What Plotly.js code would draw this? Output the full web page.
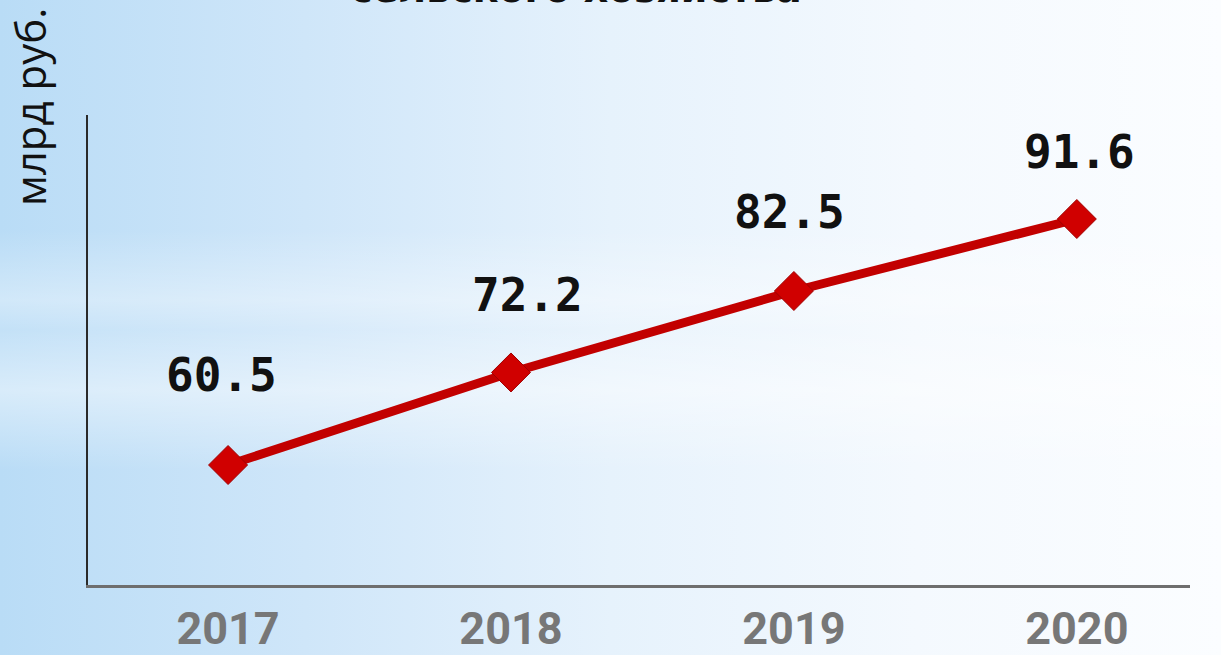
<!DOCTYPE html>
<html>
<head>
<meta charset="utf-8">
<script src="https://cdn.plot.ly/plotly-3.0.1.min.js"></script>
<style>
html,body{margin:0;padding:0;width:1221px;height:655px;overflow:hidden;}
#bg{position:absolute;left:0;top:0;width:1221px;height:655px;
background:
 linear-gradient(180deg, rgba(255,255,255,0) 0px, rgba(255,255,255,0) 230px, rgba(255,255,255,0.35) 300px, rgba(255,255,255,0.15) 330px, rgba(255,255,255,0.45) 390px, rgba(255,255,255,0) 470px, rgba(255,255,255,0) 655px),
 linear-gradient(90deg, #b9dcf6 0%, #cfe6f9 25%, #e6f2fc 50%, #f4f9fe 75%, #fbfdff 100%);}
#chart{position:absolute;left:0;top:0;width:1221px;height:655px;}
</style>
</head>
<body>
<div id="bg"></div>
<div id="chart"></div>
<script>
var years = [2017, 2018, 2019, 2020];
var values = [60.5, 72.2, 82.5, 91.6];
var valueLabels = ["60.5", "72.2", "82.5", "91.6"];
var titleText = "сельского хозяйства";
var yTitle = "млрд руб.";

// label placement (style): pixel offsets from each point
var labelDx = [-7, 17, -4, 3];
var labelDy = [90, 77, 79, 67];

var trace = {
  x: years, y: values, type: "scatter", mode: "lines+markers",
  line: {color: "#c20000", width: 9},
  marker: {symbol: "diamond", size: 30, color: "#d00000", line: {color: "#a00000", width: 1}},
  cliponaxis: false, hoverinfo: "none"
};

var annotations = years.map(function (yr, i) {
  return {text: valueLabels[i], x: yr, y: values[i], xref: "x", yref: "y",
    xshift: labelDx[i], yshift: labelDy[i], showarrow: false,
    xanchor: "center", yanchor: "middle",
    font: {family: "DejaVu Sans Mono", size: 46, color: "#111", weight: "bold"}};
});
annotations.push(
  {text: titleText, xref: "paper", yref: "paper", x: 0.443, y: 1, yshift: 102, yanchor: "bottom",
   xanchor: "center", showarrow: false, font: {family: "DejaVu Sans", size: 38, color: "#111", weight: "bold"}},
  {text: yTitle, xref: "paper", yref: "paper", x: 0, xshift: -59, y: 1, yshift: 8, xanchor: "center", yanchor: "middle",
   textangle: -90, showarrow: false, font: {family: "Open Sans", size: 42, color: "#111"}}
);

var layout = {
  width: 1221, height: 655,
  margin: {l: 88, r: 31, t: 115, b: 70},
  paper_bgcolor: "rgba(0,0,0,0)", plot_bgcolor: "rgba(0,0,0,0)",
  showlegend: false,
  xaxis: {range: [2016.505, 2020.4], tickvals: years, ticktext: years.map(String),
    showgrid: false, zeroline: false, showline: true, linecolor: "#6e6e6e", linewidth: 3,
    ticks: "", ticklabelstandoff: 2,
    tickfont: {family: "Roboto", size: 45, color: "#777777", weight: "bold"}},
  yaxis: {range: [45.33, 104.75], showgrid: false, zeroline: false, showline: true,
    linecolor: "#2a2a2a", linewidth: 2, showticklabels: false, ticks: ""},
  annotations: annotations
};

Plotly.newPlot("chart", [trace], layout, {staticPlot: true, displayModeBar: false});
</script>
</body>
</html>
